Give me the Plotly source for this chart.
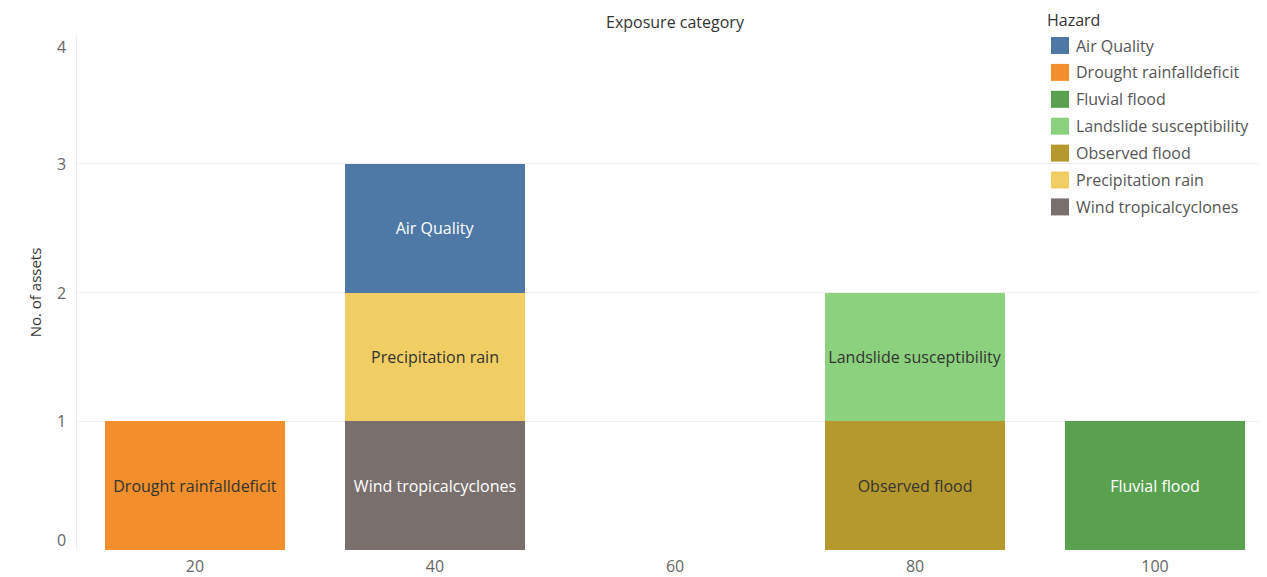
import plotly.graph_objects as go

# Data
hazards = ["Air Quality", "Drought rainfalldeficit", "Fluvial flood", "Landslide susceptibility",
           "Observed flood", "Precipitation rain", "Wind tropicalcyclones"]
exposure = [40, 20, 100, 80, 80, 40, 40]
counts = [1, 1, 1, 1, 1, 1, 1]
colors = ["#4e79a7", "#f28e2b", "#59a14f", "#8cd17d", "#b6992d", "#f1ce63", "#79706e"]
label_colors = ["#ffffff", "#333333", "#ffffff", "#333333", "#333333", "#333333", "#ffffff"]
# stacking order (bottom first)
stack_order = ["Wind tropicalcyclones", "Observed flood", "Drought rainfalldeficit", "Fluvial flood",
               "Precipitation rain", "Landslide susceptibility", "Air Quality"]
x_ticks = [20, 40, 60, 80, 100]
y_ticks = [0, 1, 2, 3, 4]

FONT = "Open Sans"
FS = 16
OFF = 8  # page body offset
W, H = 1259, 569
L, T, R, B = 69, 27, 0, 27
PW, PH = W - L - R, H - T - B


def px(xw):
    return (xw - OFF - L) / PW


def py(yw):
    return 1 - (yw - OFF - T) / PH


fig = go.Figure()
for name in stack_order:
    i = hazards.index(name)
    fig.add_trace(go.Bar(
        x=[exposure[i]], y=[counts[i]], name=name, width=15,
        marker=dict(color=colors[i], line=dict(width=0)),
        text=[name], textposition="inside", insidetextanchor="middle",
        textfont=dict(family=FONT, size=FS, color=label_colors[i]),
        showlegend=False,
    ))

shapes = []
annotations = []

# y tick labels, Tableau-style (end labels nudged inside the axis)
for v in y_ticks:
    shift = 10 if v == y_ticks[0] else (-12 if v == y_ticks[-1] else 0)
    annotations.append(dict(xref="paper", yref="y", x=0, y=v, xshift=-9, yshift=shift,
                            text=str(v), showarrow=False, xanchor="right", yanchor="middle",
                            font=dict(family=FONT, size=FS, color="#666666")))

# manual legend (Tableau-style)
lx, ly0, pitch = 1051, 37, 26.9
for k, name in enumerate(hazards):
    y = ly0 + k * pitch
    shapes.append(dict(type="rect", xref="paper", yref="paper",
                       x0=px(lx), x1=px(lx + 18), y0=py(y + 17), y1=py(y),
                       fillcolor=colors[k], line=dict(width=0), layer="above"))
    annotations.append(dict(xref="paper", yref="paper", x=px(lx + 23), y=py(y + 8.5),
                            text=name, showarrow=False, xanchor="left", yanchor="middle",
                            font=dict(family=FONT, size=FS, color="#555555")))
annotations.append(dict(xref="paper", yref="paper", x=px(1045), y=py(20),
                        text="Hazard", showarrow=False, xanchor="left", yanchor="middle",
                        font=dict(family=FONT, size=FS, color="#333333")))
annotations.append(dict(xref="paper", yref="paper", x=px(675), y=py(22),
                        text="Exposure category", showarrow=False, xanchor="center", yanchor="middle",
                        font=dict(family=FONT, size=FS, color="#333333")))

fig.update_layout(
    width=W, height=H,
    margin=dict(l=L, r=R, t=T, b=B),
    barmode="stack",
    plot_bgcolor="white", paper_bgcolor="white",
    font=dict(family=FONT, size=FS, color="#666666"),
    shapes=shapes, annotations=annotations,
    showlegend=False,
    uniformtext=dict(mode=False),
)
fig.update_xaxes(range=[10.167, 109.33], tickvals=x_ticks, showgrid=False, zeroline=False,
                 showline=False, ticks="", ticklabelstandoff=5,
                 tickfont=dict(size=FS, color="#666666"))
fig.update_yaxes(range=[0, 4], tickvals=y_ticks, showgrid=True, gridcolor="#eeeeee", gridwidth=1,
                 zeroline=False, showline=True, linecolor="#eeeeee", ticks="",
                 showticklabels=False,
                 title=dict(text="No. of assets", font=dict(size=FS - 1, color="#333333"), standoff=30))
fig.write_html("out.html")
